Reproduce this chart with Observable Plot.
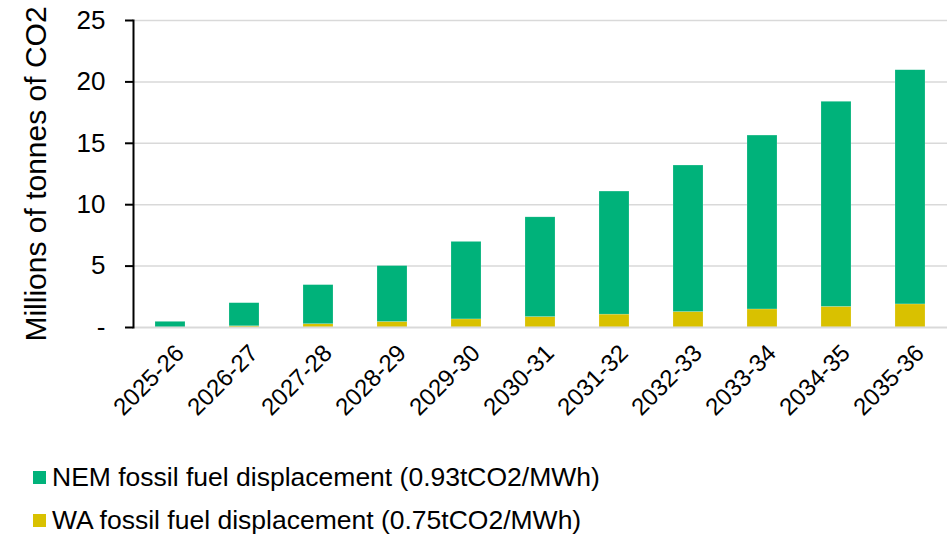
<!DOCTYPE html>
<html>
<head>
<meta charset="utf-8">
<script src="https://cdn.jsdelivr.net/npm/d3@7"></script>
<script src="https://cdn.jsdelivr.net/npm/@observablehq/plot@0.6"></script>
<style>
  html, body { margin: 0; padding: 0; background: #fff; }
  body { width: 949px; height: 534px; position: relative; overflow: hidden; font-family: "Liberation Sans", Arial, sans-serif; }
  #chart { position: absolute; left: 0; top: 0; }
  .leg { position: absolute; left: 33px; display: flex; align-items: center; font-size: 26.5px; line-height: 30px; color: #000; white-space: nowrap; }
  .sw { width: 13px; height: 13px; margin-right: 6px; }
</style>
</head>
<body>
<div id="chart"></div>
<div class="leg" id="leg1" style="top:462px"><span class="sw" style="background:#00b27a"></span><span>NEM fossil fuel displacement (0.93tCO2/MWh)</span></div>
<div class="leg" id="leg2" style="top:505px"><span class="sw" style="background:#d9c100"></span><span>WA fossil fuel displacement (0.75tCO2/MWh)</span></div>
<script>
const categories = ["2025-26","2026-27","2027-28","2028-29","2029-30","2030-31","2031-32","2032-33","2033-34","2034-35","2035-36"];
const waValues  = [0.0, 0.10, 0.27, 0.45, 0.66, 0.85, 1.05, 1.26, 1.47, 1.68, 1.88];
const nemValues = [0.46, 1.88, 3.18, 4.55, 6.31, 8.12, 10.02, 11.93, 14.16, 16.70, 19.07];
const seriesNames = ["WA fossil fuel displacement (0.75tCO2/MWh)", "NEM fossil fuel displacement (0.93tCO2/MWh)"];
const seriesColors = ["#d9c100", "#00b27a"];
const yTicks = [0, 5, 10, 15, 20, 25];
const yTitle = "Millions of tonnes of CO2";

const rows = [];
categories.forEach((c, i) => {
  rows.push({cat: c, series: seriesNames[0], value: waValues[i]});
  rows.push({cat: c, series: seriesNames[1], value: nemValues[i]});
});

const chart = Plot.plot({
  width: 949,
  height: 450,
  marginLeft: 133,
  marginRight: 2,
  marginTop: 20,
  marginBottom: 123,
  style: {fontFamily: "'Liberation Sans', Arial, sans-serif", color: "#000", background: "#fff"},
  x: {domain: categories, paddingInner: 0.6, paddingOuter: 0.3},
  y: {domain: [0, 25]},
  color: {domain: seriesNames, range: seriesColors},
  marks: [
    Plot.gridY(yTicks.filter(d => d > 0), {stroke: "#d9d9d9", strokeOpacity: 1, strokeWidth: 1.5}),
    Plot.barY(rows, {x: "cat", y: "value", fill: "series", stroke: "#ffffff", strokeOpacity: 0.35, strokeWidth: 0.5}),
    Plot.ruleY([0], {stroke: "#d9d9d9", strokeWidth: 2}),
    Plot.frame({anchor: "left", stroke: "#000", strokeWidth: 2}),
    Plot.axisY({ticks: yTicks, tickFormat: d => d === 0 ? "-" : String(d), fontSize: 26, tickSize: 8, tickPadding: 20, label: null, stroke: "#000", strokeWidth: 2}),
    Plot.axisX({tickSize: 0, tickPadding: 15, rotate: -45, textAnchor: "end", fontSize: 24, dx: 3, label: null}),
    Plot.text([yTitle], {frameAnchor: "left", textAnchor: "middle", rotate: -90, dx: -97, fontSize: 30, fill: "#000"})
  ]
});
document.getElementById("chart").appendChild(chart);
</script>
</body>
</html>
